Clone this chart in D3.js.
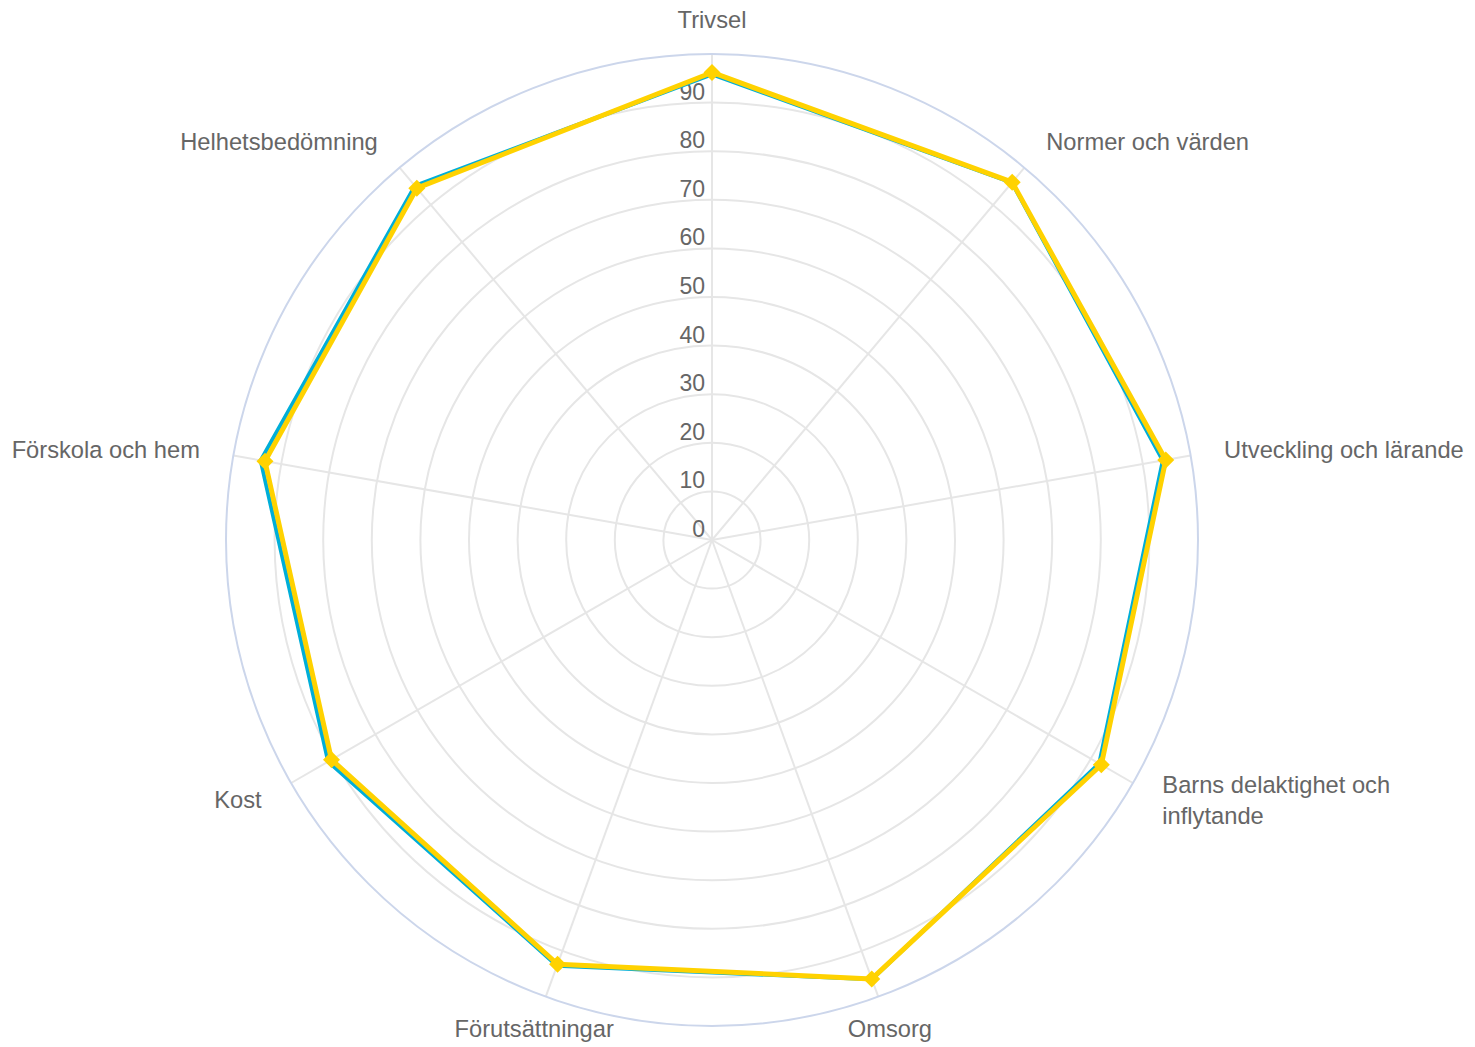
<!DOCTYPE html>
<html><head><meta charset="utf-8">
<script src="https://cdn.jsdelivr.net/npm/d3@7/dist/d3.min.js"></script>
<style>body{margin:0;background:#fff}svg{display:block}text{font-family:"Liberation Sans",Arial,Helvetica,sans-serif}</style>
</head><body><svg id="c" width="1475" height="1047"></svg>
<script>
const categories = ["Trivsel","Normer och värden","Utveckling och lärande","Barns delaktighet och inflytande","Omsorg","Förutsättningar","Kost","Förskola och hem","Helhetsbedömning"];
const seriesBlue = [95.8, 96.0, 94.2, 92.0, 96.2, 93.2, 91.2, 94.3, 95.1];
const seriesYellow = [96.2, 96.1, 94.8, 92.5, 96.1, 92.9, 90.4, 93.4, 94.5];
const tickValues = [0,10,20,30,40,50,60,70,80,90];

const svg = d3.select("#c");
const cx = 712, cy = 540, R = 486;
const r = d3.scaleLinear().domain([0,100]).range([0,R]);
const ang = d3.scalePoint().domain(categories.map((d,i)=>i)).range([0, 2*Math.PI*(categories.length-1)/categories.length]);
const g = svg.append("g").attr("transform",`translate(${cx},${cy})`);

g.selectAll("circle.grid").data(tickValues.filter(v=>v>0)).join("circle")
  .attr("r", d=>r(d)).attr("fill","none").attr("stroke","#e6e6e6").attr("stroke-width",2);
g.selectAll("line.spoke").data(categories.map((d,i)=>i)).join("line")
  .attr("x1",0).attr("y1",0)
  .attr("x2",i=>R*Math.sin(ang(i))).attr("y2",i=>-R*Math.cos(ang(i)))
  .attr("stroke","#e6e6e6").attr("stroke-width",2);
g.append("circle").attr("r",R).attr("fill","none").attr("stroke","#ccd6eb").attr("stroke-width",2);

g.selectAll("text.tick").data(tickValues).join("text")
  .attr("x",-7).attr("y",d=>-r(d)-3).attr("text-anchor","end")
  .attr("font-size",23).attr("fill","#666666").text(d=>d);

const LR = 520, FS = 23.7;
categories.forEach((c,i)=>{
  const a = ang(i), deg = a*180/Math.PI;
  const x = LR*Math.sin(a), y = -LR*Math.cos(a);
  let anchor = "middle";
  if (deg > 20 && deg < 160) anchor = "start";
  else if (deg > 200 && deg < 340) anchor = "end";
  const t = g.append("text").attr("text-anchor",anchor).attr("font-size",FS).attr("fill","#666666");
  const words = c.split(" "); const lines=[]; let cur="";
  const meas = g.append("text").attr("font-size",FS).style("visibility","hidden");
  words.forEach(w=>{const test = cur?cur+" "+w:w; meas.text(test);
    if (meas.node().getComputedTextLength()>260 && cur){lines.push(cur);cur=w;} else cur=test;});
  lines.push(cur); meas.remove();
  const lh = 31; const y0 = y - (lines.length-1)*lh/2 + 8;
  lines.forEach((l,k)=>t.append("tspan").attr("x",x).attr("y",y0+k*lh).text(l));
});

const line = d3.lineRadial().angle((d,i)=>ang(i)).radius(d=>r(d)).curve(d3.curveLinearClosed);
g.append("path").datum(seriesBlue).attr("d",line).attr("fill","none")
  .attr("stroke","#00aed8").attr("stroke-width",4).attr("stroke-linejoin","round");
g.append("path").datum(seriesYellow).attr("d",line).attr("fill","none")
  .attr("stroke","#ffd200").attr("stroke-width",5).attr("stroke-linejoin","round");
const dm = 8.5;
g.selectAll("path.mk").data(seriesYellow).join("path")
  .attr("transform",(d,i)=>`translate(${r(d)*Math.sin(ang(i))},${-r(d)*Math.cos(ang(i))})`)
  .attr("d",`M0,${-dm}L${dm},0L0,${dm}L${-dm},0Z`).attr("fill","#ffd200");
</script></body></html>
